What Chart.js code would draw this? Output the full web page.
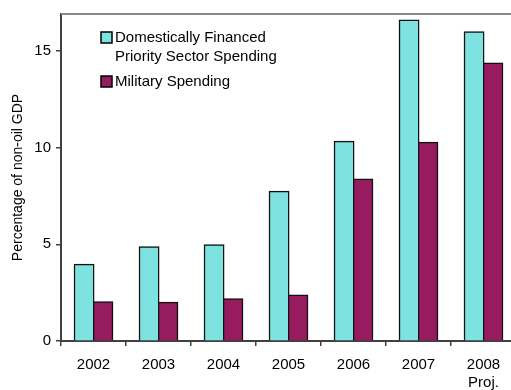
<!DOCTYPE html>
<html>
<head>
<meta charset="utf-8">
<script src="https://cdn.jsdelivr.net/npm/chart.js@4"></script>
<style>
  html, body { margin: 0; padding: 0; background: #fff; overflow: hidden; }
  #wrap { position: absolute; left: 0; top: 0; width: 520px; height: 390px; }
</style>
</head>
<body>
<div id="wrap"><canvas id="chart"></canvas></div>
<script>
const years = ['2002', '2003', '2004', '2005', '2006', '2007', ['2008', 'Proj.']];
const priorityName = 'Domestically Financed\nPriority Sector Spending';
const militaryName = 'Military Spending';
const prioritySpending = [3.94, 4.85, 4.95, 7.71, 10.3, 16.56, 15.96];
const militarySpending = [2.0, 1.98, 2.16, 2.35, 8.35, 10.25, 14.34];
const yTicks = [0, 5, 10, 15];

const FONT = '"Liberation Sans", Arial, sans-serif';

// legend drawn inside plot area, top-left
const insideLegend = {
  id: 'insideLegend',
  afterDraw(chart) {
    const ctx = chart.ctx;
    const area = chart.chartArea;
    // top frame line
    ctx.save();
    ctx.strokeStyle = '#8a8a8a';
    ctx.lineWidth = 2;
    ctx.beginPath();
    ctx.moveTo(area.left, area.top);
    ctx.lineTo(area.right, area.top);
    ctx.stroke();

    ctx.font = '15px ' + FONT;
    ctx.textBaseline = 'middle';
    let y = 38;
    chart.data.datasets.forEach(ds => {
      const lines = ds.label.split('\n');
      ctx.fillStyle = ds.backgroundColor;
      ctx.fillRect(101, y - 6, 11, 11);
      ctx.strokeStyle = '#000';
      ctx.lineWidth = 1.5;
      ctx.strokeRect(101, y - 6, 11, 11);
      ctx.fillStyle = '#000';
      lines.forEach((line, i) => {
        ctx.fillText(line, 115, y + i * 19);
      });
      y += lines.length * 19 + 6;
    });
    ctx.restore();
  }
};

const ctx = document.getElementById('chart').getContext('2d');
new Chart(ctx, {
  type: 'bar',
  data: {
    labels: years,
    datasets: [{
      label: priorityName,
      data: prioritySpending,
      backgroundColor: '#7de2e0',
      borderColor: '#111',
      borderWidth: 1.5,
      inflateAmount: 1
    }, {
      label: militaryName,
      data: militarySpending,
      backgroundColor: '#961b5f',
      borderColor: '#111',
      borderWidth: 1.5,
      inflateAmount: 1
    }]
  },
  options: {
    responsive: true,
    maintainAspectRatio: false,
    animation: false,
    layout: { padding: { top: 9, right: 4, left: 0, bottom: 0 } },
    datasets: {
      bar: { categoryPercentage: 0.58, barPercentage: 1.0 }
    },
    plugins: {
      legend: { display: false },
      tooltip: { enabled: false }
    },
    scales: {
      x: {
        grid: {
          offset: true,
          drawOnChartArea: false,
          drawTicks: true,
          tickLength: 5,
          color: '#404040',
          lineWidth: 1.5
        },
        border: { color: '#404040', width: 2 },
        ticks: {
          color: '#000',
          font: { family: FONT, size: 15, lineHeight: 1.25 },
          padding: 9,
          maxRotation: 0
        },
        afterFit(scale) { scale.height = 49; }
      },
      y: {
        min: 0,
        max: 16.9,
        grid: {
          drawOnChartArea: false,
          tickLength: 5,
          color: '#404040',
          lineWidth: 1.5
        },
        border: { color: '#404040', width: 2 },
        ticks: {
          stepSize: 5,
          color: '#000',
          font: { family: FONT, size: 15 },
          padding: 5
        },
        afterBuildTicks(scale) {
          scale.ticks = yTicks.map(v => ({ value: v }));
        },
        title: {
          display: true,
          text: 'Percentage of non-oil GDP',
          color: '#000',
          font: { family: FONT, size: 14 },
          padding: { top: 10, bottom: 0 }
        },
        afterFit(scale) { scale.width = 61; }
      }
    }
  },
  plugins: [insideLegend]
});
</script>
</body>
</html>
